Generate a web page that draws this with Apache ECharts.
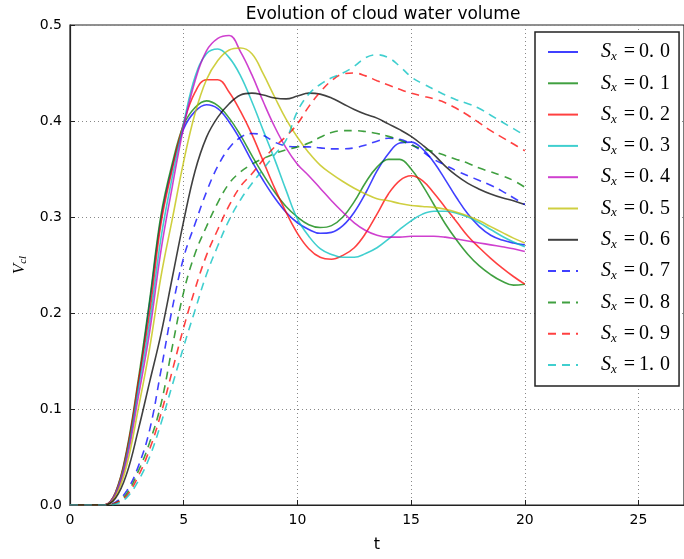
<!DOCTYPE html>
<html><head><meta charset="utf-8">
<script src="https://cdn.jsdelivr.net/npm/echarts@6/dist/echarts.min.js"></script>
<style>html,body{margin:0;padding:0;background:#fff}#c{width:684px;height:559px}</style>
</head><body><div id="c"></div>
<script>
const titleText = 'Evolution of cloud water volume';
const xName = 't';
const xTicks = [0, 5, 10, 15, 20, 25];
const yTicks = [0.0, 0.1, 0.2, 0.3, 0.4, 0.5];
const t = [0,0.5,1,1.5,2,2.5,3,3.5,4,4.5,5,5.5,6,6.5,7,7.5,8,8.5,9,9.5,10,10.5,11,11.5,12,12.5,13,13.5,14,14.5,15,15.5,16,16.5,17,17.5,18,18.5,19,19.5,20];
const sxLabels = ['0.0','0.1','0.2','0.3','0.4','0.5','0.6','0.7','0.8','0.9','1.0'];
const s00 = [0,0,0,0,0.012,0.055,0.125,0.21,0.298,0.353,0.392,0.41,0.417,0.413,0.399,0.38,0.358,0.338,0.32,0.305,0.294,0.287,0.283,0.284,0.291,0.305,0.325,0.348,0.366,0.377,0.378,0.371,0.357,0.339,0.32,0.303,0.29,0.281,0.276,0.273,0.271];
const s01 = [0,0,0,0,0.013,0.058,0.13,0.213,0.302,0.356,0.396,0.414,0.421,0.416,0.403,0.385,0.364,0.344,0.326,0.311,0.3,0.292,0.289,0.291,0.3,0.316,0.336,0.352,0.36,0.36,0.35,0.333,0.313,0.293,0.276,0.261,0.249,0.24,0.233,0.229,0.23];
const s02 = [0,0,0,0,0.013,0.056,0.127,0.2,0.293,0.35,0.398,0.43,0.443,0.443,0.43,0.41,0.386,0.358,0.33,0.305,0.283,0.267,0.258,0.256,0.26,0.268,0.283,0.303,0.324,0.338,0.343,0.338,0.325,0.31,0.295,0.28,0.268,0.257,0.247,0.238,0.23];
const s03 = [0,0,0,0,0.012,0.052,0.12,0.19,0.278,0.342,0.398,0.446,0.47,0.475,0.466,0.447,0.42,0.39,0.36,0.328,0.298,0.28,0.267,0.261,0.258,0.258,0.262,0.268,0.277,0.287,0.296,0.303,0.306,0.306,0.304,0.3,0.294,0.287,0.28,0.274,0.269];
const s04 = [0,0,0,0,0.011,0.048,0.112,0.18,0.265,0.332,0.394,0.442,0.473,0.486,0.489,0.472,0.448,0.42,0.394,0.372,0.355,0.343,0.33,0.317,0.305,0.294,0.286,0.281,0.279,0.279,0.28,0.28,0.28,0.279,0.277,0.275,0.273,0.271,0.269,0.267,0.264];
const s05 = [0,0,0,0,0.009,0.042,0.1,0.163,0.238,0.298,0.358,0.408,0.443,0.463,0.474,0.476,0.47,0.449,0.425,0.402,0.383,0.367,0.354,0.345,0.337,0.33,0.324,0.319,0.317,0.314,0.312,0.311,0.31,0.308,0.305,0.301,0.296,0.29,0.284,0.278,0.273];
const s06 = [0,0,0,0,0.007,0.033,0.078,0.128,0.178,0.237,0.296,0.348,0.383,0.404,0.418,0.427,0.429,0.427,0.424,0.423,0.426,0.429,0.428,0.424,0.418,0.412,0.407,0.403,0.397,0.391,0.384,0.375,0.365,0.353,0.343,0.335,0.329,0.324,0.32,0.317,0.313];
const s07 = [0,0,0,0,0.003,0.015,0.04,0.078,0.14,0.205,0.258,0.293,0.326,0.353,0.372,0.383,0.387,0.385,0.378,0.374,0.373,0.373,0.372,0.371,0.371,0.372,0.375,0.379,0.382,0.381,0.376,0.368,0.36,0.354,0.348,0.343,0.338,0.333,0.327,0.32,0.313];
const s08 = [0,0,0,0,0.002,0.012,0.035,0.065,0.105,0.165,0.222,0.262,0.29,0.315,0.335,0.347,0.355,0.361,0.366,0.37,0.373,0.377,0.383,0.388,0.39,0.39,0.389,0.387,0.384,0.38,0.375,0.371,0.368,0.364,0.36,0.356,0.351,0.347,0.343,0.338,0.331];
const s09 = [0,0,0,0,0.002,0.01,0.03,0.058,0.095,0.14,0.185,0.225,0.26,0.287,0.312,0.332,0.345,0.36,0.373,0.384,0.397,0.415,0.43,0.442,0.449,0.45,0.447,0.442,0.4375,0.433,0.429,0.426,0.423,0.419,0.413,0.406,0.398,0.39,0.383,0.376,0.369];
const s10 = [0,0,0,0,0.001,0.008,0.025,0.05,0.085,0.125,0.165,0.203,0.24,0.27,0.297,0.318,0.335,0.35,0.365,0.38,0.41,0.428,0.438,0.445,0.45,0.457,0.466,0.469,0.466,0.457,0.446,0.439,0.433,0.427,0.422,0.418,0.413,0.406,0.399,0.392,0.385];

const values = [s00,s01,s02,s03,s04,s05,s06,s07,s08,s09,s10];
const colors = ['#0000ff','#008000','#ff0000','#00bfbf','#bf00bf','#bfbf00','#000000','#0000ff','#008000','#ff0000','#00bfbf'];
const dashed = [false,false,false,false,false,false,false,true,true,true,true];

const names = sxLabels.map(s => 'S_x = ' + s);
const series = values.map((vals, i) => ({
  name: names[i],
  type: 'line',
  data: t.map((tt, j) => [tt, vals[j]]),
  smooth: 0.4,
  symbol: 'none',
  color: colors[i],
  lineStyle: { color: colors[i], width: 1.6, opacity: 0.75, type: dashed[i] ? [8, 6] : 'solid' },
  emphasis: { disabled: true }
}));

const chart = echarts.init(document.getElementById('c'), null, { renderer: 'canvas' });
chart.setOption({
  animation: false,
  title: {
    text: titleText, left: 378, top: 1, textAlign: 'center',
    textStyle: { fontFamily: 'DejaVu Sans', fontSize: 17, fontWeight: 'normal', color: '#000' }
  },
  grid: { left: 70, top: 25, right: -6, bottom: 54, show: true, borderColor: '#222', borderWidth: 1.2, backgroundColor: 'transparent' },
  xAxis: {
    type: 'value', min: 0, max: 27, interval: 5,
    name: xName, nameLocation: 'middle', nameGap: 32,
    nameTextStyle: { fontFamily: 'DejaVu Sans', fontSize: 16, color: '#000' },
    axisLine: { show: true, lineStyle: { color: '#222', width: 1.2 } },
    axisTick: { show: true, inside: true, length: 5, lineStyle: { color: '#222' } },
    axisLabel: { fontFamily: 'DejaVu Sans', fontSize: 14, color: '#000', margin: 8,
      formatter: v => xTicks.indexOf(v) >= 0 ? String(v) : '' , showMaxLabel: false },
    splitLine: { show: true, lineStyle: { color: '#888', type: [1, 3], width: 1 } }
  },
  yAxis: {
    type: 'value', min: 0, max: 0.5, interval: 0.1,
    name: '{v|V}{s|cl}', nameLocation: 'middle', nameGap: 41, nameRotate: 90,
    nameTextStyle: { rich: {
      v: { fontFamily: 'Liberation Serif', fontStyle: 'italic', fontSize: 17, color: '#000' },
      s: { fontFamily: 'Liberation Serif', fontStyle: 'italic', fontSize: 11, color: '#000', padding: [8, 0, 0, 0] }
    } },
    axisLine: { show: true, lineStyle: { color: '#222', width: 1.2 } },
    axisTick: { show: true, inside: true, length: 5, lineStyle: { color: '#222' } },
    axisLabel: { fontFamily: 'DejaVu Sans', fontSize: 14, color: '#000', margin: 8,
      formatter: v => { const k = yTicks.findIndex(y => Math.abs(y - v) < 1e-9); return k >= 0 ? yTicks[k].toFixed(1) : ''; } },
    splitLine: { show: true, lineStyle: { color: '#888', type: [1, 3], width: 1 } }
  },
  legend: {
    orient: 'vertical', left: 535, top: 32,
    backgroundColor: '#fff', borderColor: '#222', borderWidth: 1.5, borderRadius: 0,
    padding: [10, 9, 10, 12],
    itemWidth: 30, itemHeight: 14, itemGap: 10.3,
    itemStyle: { opacity: 0 },
    data: names,
    formatter: n => { const k = names.indexOf(n); const s = sxLabels[k]; return '{s|S}{x|x}{e|=}{d|' + s.slice(0, 2) + '}{f|' + s.slice(2) + '}'; },
    textStyle: {
      lineHeight: 20,
      rich: {
        s: { fontFamily: 'Liberation Serif', fontStyle: 'italic', fontSize: 20, color: '#000', padding: [0, 0, 0, 18] },
        x: { fontFamily: 'Liberation Serif', fontStyle: 'italic', fontSize: 13, color: '#000', padding: [9, 7, 0, 0] },
        e: { fontFamily: 'Liberation Serif', fontSize: 20, color: '#000' },
        d: { fontFamily: 'Liberation Serif', fontSize: 20, color: '#000', padding: [0, 0, 0, 4] },
        f: { fontFamily: 'Liberation Serif', fontSize: 20, color: '#000', padding: [0, 0, 0, 6] }
      }
    }
  },
  series: series
});
</script>
</body></html>
